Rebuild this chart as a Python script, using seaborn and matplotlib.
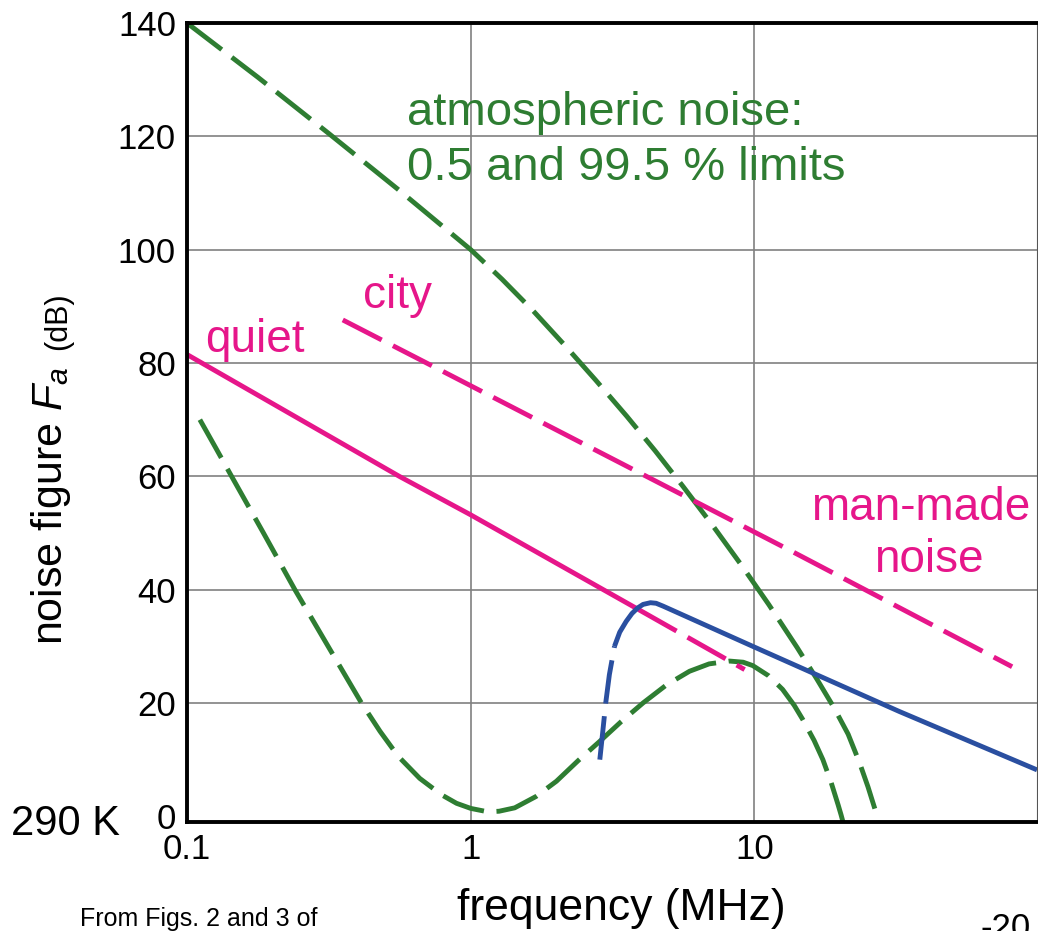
import numpy as np
import pandas as pd
import matplotlib
matplotlib.use("Agg")
import matplotlib.pyplot as plt
from matplotlib.ticker import FixedLocator, NullLocator
import seaborn as sns

# ---------------- data ----------------
atm_hi_f = [0.1, 0.178, 0.316, 0.562, 1.0, 1.288, 1.66, 2.138, 2.754, 3.548, 4.467, 5.623,
            7.079, 8.913, 11.22, 14.13, 16.6, 19.05, 21.38, 23.44, 25.12, 26.61, 27.1]
atm_hi_db = [140, 130.4, 120.5, 110.4, 100, 94.8, 89.2, 83.2, 77.0, 70.6, 64.5, 58.1,
             51.5, 44.6, 37.4, 29.8, 24.2, 19.2, 14.5, 9.5, 5.2, 1.2, -1]

atm_lo_f = [0.111, 0.126, 0.1436, 0.186, 0.240, 0.316, 0.412, 0.479, 0.555, 0.661, 0.789, 0.891,
            1.0, 1.148, 1.259, 1.429, 1.698, 2.005, 2.399, 2.844, 3.388, 4.046, 4.898, 5.902,
            6.918, 8.166, 9.12, 9.863, 11.22, 12.56, 13.8, 14.79, 16.22, 17.42, 18.62, 19.72,
            20.18, 20.51]
atm_lo_db = [70.0, 65.1, 60.0, 50.0, 40.0, 29.8, 20.0, 15.0, 10.6, 6.7, 3.8, 2.3,
             1.4, 0.8, 0.9, 1.5, 3.5, 6.2, 9.9, 13.2, 16.7, 20.0, 23.2, 25.6,
             26.9, 27.4, 27.2, 26.6, 24.8, 22.4, 19.6, 17.1, 13.4, 10.0, 6.0, 2.0,
             0.3, -1]

city_f = [0.354, 0.843, 13.5, 80.9]
city_db = [87.6, 77.9, 46.8, 26.4]

quiet_f = [0.1, 0.56, 1.0, 3.9]
quiet_db = [81.5, 60.0, 53.2, 36.5]
quiet_ext_f = [3.9, 9.23]
quiet_ext_db = [36.5, 25.9]

gal_rise_f = [2.85, 2.92, 2.99, 3.08, 3.21]
gal_rise_db = [10.0, 15.0, 20.0, 25.0, 30.0]
gal_f = [3.21, 3.35, 3.53, 3.7, 3.88, 4.05, 4.3, 4.5, 4.76, 9.96, 32.4, 99]
gal_db = [30.0, 32.5, 34.4, 35.8, 36.8, 37.4, 37.7, 37.6, 37.1, 29.9, 18.5, 8.2]

x_ticks = [0.1, 1, 10]
x_tick_labels = ["0.1", "1", "10"]
y_ticks = [0, 20, 40, 60, 80, 100, 120, 140]

GREEN = "#2E7D32"
PINK = "#E6168A"
BLUE = "#2A4FA0"

# ---------------- style ----------------
sns.set_theme(style="white")
plt.rcParams["font.family"] = ["Liberation Sans", "DejaVu Sans"]
plt.rcParams["mathtext.fontset"] = "custom"
plt.rcParams["mathtext.rm"] = "Liberation Sans"
plt.rcParams["mathtext.it"] = "Liberation Sans:italic"

W, H = 1038, 931
fig = plt.figure(figsize=(W / 100, H / 100), dpi=100)
ax = fig.add_axes([187 / W, 1 - 822 / H, (1037 - 187) / W, (822 - 23) / H])

LW = 3.5
DASH = (9, 2.6)


def draw(f, db, color, dashed):
    df = pd.DataFrame({"f": f, "db": db})
    n0 = len(ax.lines)
    sns.lineplot(data=df, x="f", y="db", ax=ax, color=color, lw=LW,
                 sort=False, estimator=None, legend=False)
    for ln in ax.lines[n0:]:
        ln.set_solid_capstyle("butt")
        ln.set_dash_capstyle("butt")
        ln.set_solid_joinstyle("round")
        if dashed:
            ln.set_dashes(DASH)


draw(atm_hi_f, atm_hi_db, GREEN, True)
draw(atm_lo_f, atm_lo_db, GREEN, True)
draw(city_f, city_db, PINK, True)
draw(quiet_f, quiet_db, PINK, False)
draw(quiet_ext_f, quiet_ext_db, PINK, True)
draw(gal_rise_f, gal_rise_db, BLUE, True)
draw(gal_f, gal_db, BLUE, False)

ax.set_xscale("log")
ax.set_xlim(0.1, 99)
ax.set_ylim(-1, 140)
ax.xaxis.set_major_locator(FixedLocator(x_ticks))
ax.xaxis.set_minor_locator(NullLocator())
ax.set_xticklabels(x_tick_labels)
ax.yaxis.set_major_locator(FixedLocator(y_ticks))
ax.tick_params(axis="both", length=0, pad=8, labelsize=25, colors="black")
ax.set_xlabel("")
ax.set_ylabel("")

ax.grid(True, color="#808080", lw=1.2)
ax.set_axisbelow(True)
ax.get_ygridlines()[0].set_visible(False)

for side in ["left", "bottom", "top"]:
    ax.spines[side].set_color("black")
    ax.spines[side].set_linewidth(2.8)
ax.spines["right"].set_color("#555555")
ax.spines["right"].set_linewidth(0.8)


def fx(px):
    return px / W


def fy(py):
    return 1 - py / H


# annotations
fig.text(fx(407), fy(125), "atmospheric noise:", color=GREEN, fontsize=34, va="baseline", ha="left")
fig.text(fx(407), fy(180), "0.5 and 99.5 % limits", color=GREEN, fontsize=34, va="baseline", ha="left")
fig.text(fx(363), fy(308), "city", color=PINK, fontsize=33, va="baseline", ha="left")
fig.text(fx(205), fy(352), "quiet", color=PINK, fontsize=33, va="baseline", ha="left")
fig.text(fx(921), fy(520), "man-made", color=PINK, fontsize=33, va="baseline", ha="center")
fig.text(fx(929), fy(572), "noise", color=PINK, fontsize=33, va="baseline", ha="center")

# axis labels
fig.text(fx(621), fy(920), "frequency (MHz)", fontsize=32, va="baseline", ha="center", color="black")
fig.text(fx(62), fy(645), "noise figure $F_a$", fontsize=31, rotation=90,
         rotation_mode="anchor", ha="left", va="baseline", color="black")
fig.text(fx(66), fy(350), "(dB)", fontsize=22, rotation=90,
         rotation_mode="anchor", ha="left", va="baseline", color="black")

# other texts
fig.text(fx(11), fy(835), "290 K", fontsize=30, va="baseline", ha="left", color="black")
fig.text(fx(80), fy(926), "From Figs. 2 and 3 of", fontsize=18, va="baseline", ha="left", color="black")
fig.text(fx(980), fy(938), "-20", fontsize=25, va="baseline", ha="left", color="black")

fig.savefig("out.png", dpi=100)
